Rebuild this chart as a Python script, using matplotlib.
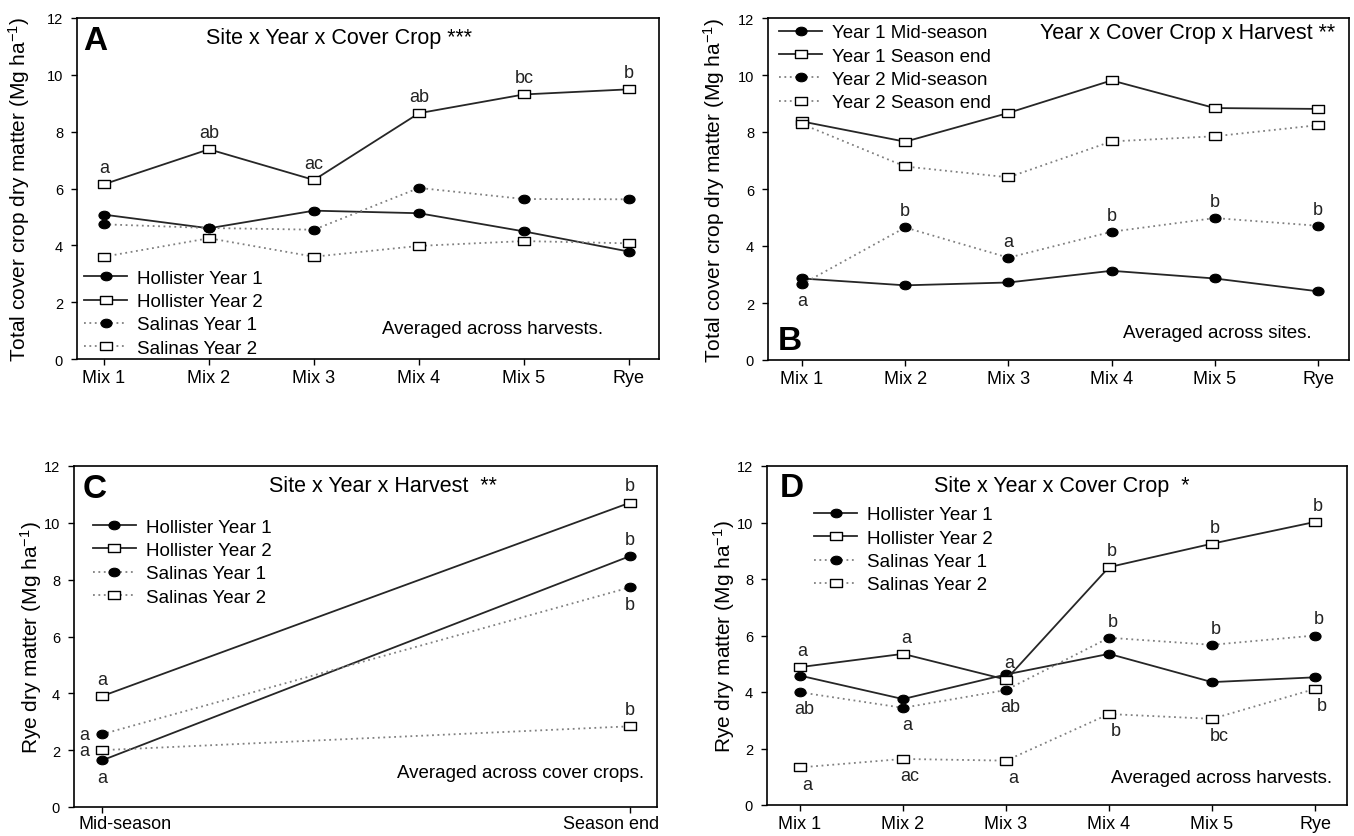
import matplotlib
matplotlib.use('Agg')
from matplotlib import pyplot as plt
from matplotlib.lines import Line2D
from matplotlib.path import Path

plt.rcParams['font.family'] = ['Liberation Sans', 'DejaVu Sans']
plt.rcParams['mathtext.fontset'] = 'custom'
plt.rcParams['mathtext.rm'] = 'Liberation Sans'
plt.rcParams['mathtext.it'] = 'Liberation Sans:italic'
plt.rcParams['mathtext.bf'] = 'Liberation Sans:bold'

# ---- data ----
mixes = ['Mix 1', 'Mix 2', 'Mix 3', 'Mix 4', 'Mix 5', 'Rye']
harvests = ['Mid-season', 'Season end']
site_years = ['Hollister Year 1', 'Hollister Year 2', 'Salinas Year 1', 'Salinas Year 2']
year_harvests = ['Year 1 Mid-season', 'Year 1 Season end', 'Year 2 Mid-season', 'Year 2 Season end']

# A : total cover crop, site x year x cover crop
a_hol1 = [5.08, 4.60, 5.22, 5.13, 4.49, 3.78]
a_hol2 = [6.15, 7.38, 6.30, 8.65, 9.31, 9.49]
a_sal1 = [4.74, 4.61, 4.55, 6.02, 5.63, 5.62]
a_sal2 = [3.60, 4.25, 3.60, 3.98, 4.15, 4.07]
a_let_hol2 = ['a', 'ab', 'ac', 'ab', 'bc', 'b']

# B : total cover crop, year x cover crop x harvest
b_y1_mid = [2.86, 2.62, 2.72, 3.13, 2.86, 2.41]
b_y1_end = [8.37, 7.66, 8.67, 9.81, 8.84, 8.81]
b_y2_mid = [2.66, 4.65, 3.59, 4.50, 4.98, 4.71]
b_y2_end = [8.28, 6.79, 6.41, 7.67, 7.85, 8.24]
b_let_y2_mid = ['a', 'b', 'a', 'b', 'b', 'b']

# C : rye, site x year x harvest
c_hol1 = [1.64, 8.83]
c_hol2 = [3.90, 10.71]
c_sal1 = [2.56, 7.73]
c_sal2 = [2.00, 2.84]
c_let = ['a', 'b']

# D : rye, site x year x cover crop
d_hol1 = [4.58, 3.75, 4.62, 5.35, 4.35, 4.52]
d_hol2 = [4.88, 5.35, 4.44, 8.42, 9.25, 10.02]
d_sal1 = [3.99, 3.44, 4.07, 5.92, 5.67, 6.00]
d_sal2 = [1.33, 1.63, 1.57, 3.22, 3.05, 4.11]
d_let_hol2 = ['a', 'a', 'a', 'b', 'b', 'b']
d_let_sal1 = ['ab', 'a', 'ab', 'b', 'b', 'b']
d_let_sal2 = ['a', 'ac', 'a', 'b', 'bc', 'b']

W, H = 1354, 837
fig = plt.figure(figsize=(W / 100, H / 100), dpi=100)


def box(l, t, r, b):
    return [l / W, 1 - b / H, (r - l) / W, (b - t) / H]


# the original figure is a bit stretched sideways, so markers are wider than tall
ell = Path(Path.unit_circle().vertices * [1.0, 0.77], Path.unit_circle().codes)
rect = Path([(-1, -0.77), (1, -0.77), (1, 0.77), (-1, 0.77), (-1, -0.77)],
            [Path.MOVETO, Path.LINETO, Path.LINETO, Path.LINETO, Path.CLOSEPOLY])

SOLID = dict(color='#262626', lw=1.3, ls='-')
DOT = dict(color='#808080', lw=1.3, ls=(0, (1, 2)))
FILLED = dict(marker=ell, ms=8, mfc='black', mec='black', mew=0.8)
OPEN = dict(marker=rect, ms=8, mfc='white', mec='black', mew=1.0)

FS_TICK_X = 13
FS_TICK_Y = 10.5
FS_LEG = 13.5
FS_TITLE = 15.5
FS_NOTE = 13.5
FS_LET = 13


def series(ax, x, y, line, mk, label):
    ax.plot(x, y, label=label, **line, **mk)


def letters(ax, x, y, labs, where, dx=0):
    for xi, yi, lab, w in zip(x, y, labs, where):
        if w == 'u':
            off, ha = (dx, 12), 'center'
        elif w == 'd':
            off, ha = (dx, -12), 'center'
        else:
            off, ha = (-9, 0), 'right'
        ax.annotate(lab, (xi, yi), xytext=off, textcoords='offset points',
                    ha=ha, va='center', fontsize=FS_LET, color='#222222')


def style(ax, xlim, ylab, labx):
    ax.set_ylim(0, 12)
    ax.set_yticks(range(0, 13, 2))
    ax.set_xlim(*xlim)
    ax.tick_params(axis='y', direction='out', length=4, width=1, pad=6, labelsize=FS_TICK_Y)
    ax.tick_params(axis='x', direction='out', length=4, width=1, pad=3, labelsize=FS_TICK_X)
    for s in ax.spines.values():
        s.set_linewidth(1.2)
    ax.set_ylabel(ylab, fontsize=15)
    ax.yaxis.set_label_coords(labx, 0.5)


def legend(ax, labels, x, y):
    hs = [Line2D([], [], **SOLID, **FILLED), Line2D([], [], **SOLID, **OPEN),
          Line2D([], [], **DOT, **FILLED), Line2D([], [], **DOT, **OPEN)]
    ax.legend(hs, labels, loc='upper left', bbox_to_anchor=(x, y), frameon=False,
              fontsize=FS_LEG, handlelength=2.3, handletextpad=0.55, labelspacing=0.33,
              borderpad=0, borderaxespad=0)


total_lab = r'Total cover crop dry matter (Mg ha$^{-1}$)'
rye_lab = r'Rye dry matter (Mg ha$^{-1}$)'
xm = list(range(len(mixes)))

# ---------- A ----------
ax = fig.add_axes(box(77, 19, 659, 360))
series(ax, xm, a_hol1, SOLID, FILLED, site_years[0])
series(ax, xm, a_hol2, SOLID, OPEN, site_years[1])
series(ax, xm, a_sal1, DOT, FILLED, site_years[2])
series(ax, xm, a_sal2, DOT, OPEN, site_years[3])
letters(ax, xm, a_hol2, a_let_hol2, 'uuuuuu')
style(ax, (-0.257, 5.286), total_lab, -0.077)
ax.set_xticks(xm)
ax.set_xticklabels(mixes)
legend(ax, site_years, 0.012, 0.262)
ax.text(0.01, 0.935, 'A', transform=ax.transAxes, fontsize=24, fontweight='bold', va='center')
ax.text(0.45, 0.944, 'Site x Year x Cover Crop ***', transform=ax.transAxes,
        fontsize=FS_TITLE, ha='center', va='center')
ax.text(0.904, 0.088, 'Averaged across harvests.', transform=ax.transAxes,
        fontsize=FS_NOTE, ha='right', va='center')

# ---------- B ----------
ax = fig.add_axes(box(768, 19, 1349, 361))
series(ax, xm, b_y1_mid, SOLID, FILLED, year_harvests[0])
series(ax, xm, b_y1_end, SOLID, OPEN, year_harvests[1])
series(ax, xm, b_y2_mid, DOT, FILLED, year_harvests[2])
series(ax, xm, b_y2_end, DOT, OPEN, year_harvests[3])
letters(ax, xm, b_y2_mid, b_let_y2_mid, 'duuuuu')
style(ax, (-0.329, 5.30), total_lab, -0.07)
ax.set_xticks(xm)
ax.set_xticklabels(mixes)
legend(ax, year_harvests, 0.019, 0.982)
ax.text(0.017, 0.058, 'B', transform=ax.transAxes, fontsize=24, fontweight='bold', va='center')
ax.text(0.976, 0.958, 'Year x Cover Crop x Harvest **', transform=ax.transAxes,
        fontsize=FS_TITLE, ha='right', va='center')
ax.text(0.935, 0.08, 'Averaged across sites.', transform=ax.transAxes,
        fontsize=FS_NOTE, ha='right', va='center')

# ---------- C ----------
ax = fig.add_axes(box(74, 467, 657, 808))
xh = [0, 1]
series(ax, xh, c_hol1, SOLID, FILLED, site_years[0])
series(ax, xh, c_hol2, SOLID, OPEN, site_years[1])
series(ax, xh, c_sal1, DOT, FILLED, site_years[2])
series(ax, xh, c_sal2, DOT, OPEN, site_years[3])
letters(ax, xh, c_hol1, c_let, 'du')
letters(ax, xh, c_hol2, c_let, 'uu')
letters(ax, xh, c_sal1, c_let, 'ld')
letters(ax, xh, c_sal2, c_let, 'lu')
style(ax, (-0.053, 1.051), rye_lab, -0.052)
ax.set_xticks(xh)
ax.set_xticklabels(['', ''])
ax.text(0.008, -0.022, harvests[0], transform=ax.transAxes, fontsize=FS_TICK_X, ha='left', va='top')
ax.text(1.003, -0.022, harvests[1], transform=ax.transAxes, fontsize=FS_TICK_X, ha='right', va='top')
legend(ax, site_years, 0.032, 0.846)
ax.text(0.014, 0.933, 'C', transform=ax.transAxes, fontsize=24, fontweight='bold', va='center')
ax.text(0.53, 0.944, 'Site x Year x Harvest  **', transform=ax.transAxes,
        fontsize=FS_TITLE, ha='center', va='center')
ax.text(0.978, 0.1025, 'Averaged across cover crops.', transform=ax.transAxes,
        fontsize=FS_NOTE, ha='right', va='center')

# ---------- D ----------
ax = fig.add_axes(box(767, 467, 1347, 806))
series(ax, xm, d_hol1, SOLID, FILLED, site_years[0])
series(ax, xm, d_hol2, SOLID, OPEN, site_years[1])
series(ax, xm, d_sal1, DOT, FILLED, site_years[2])
series(ax, xm, d_sal2, DOT, OPEN, site_years[3])
letters(ax, xm, d_hol2, d_let_hol2, 'uuuuuu', dx=2)
letters(ax, xm, d_sal1, d_let_sal1, 'ddduuu', dx=3)
letters(ax, xm, d_sal2, d_let_sal2, 'dddddd', dx=5)
style(ax, (-0.32, 5.31), rye_lab, -0.052)
ax.set_xticks(xm)
ax.set_xticklabels(mixes)
legend(ax, site_years, 0.081, 0.881)
ax.text(0.022, 0.938, 'D', transform=ax.transAxes, fontsize=24, fontweight='bold', va='center')
ax.text(0.509, 0.943, 'Site x Year x Cover Crop  *', transform=ax.transAxes,
        fontsize=FS_TITLE, ha='center', va='center')
ax.text(0.974, 0.082, 'Averaged across harvests.', transform=ax.transAxes,
        fontsize=FS_NOTE, ha='right', va='center')

fig.savefig('out.png', dpi=100)
